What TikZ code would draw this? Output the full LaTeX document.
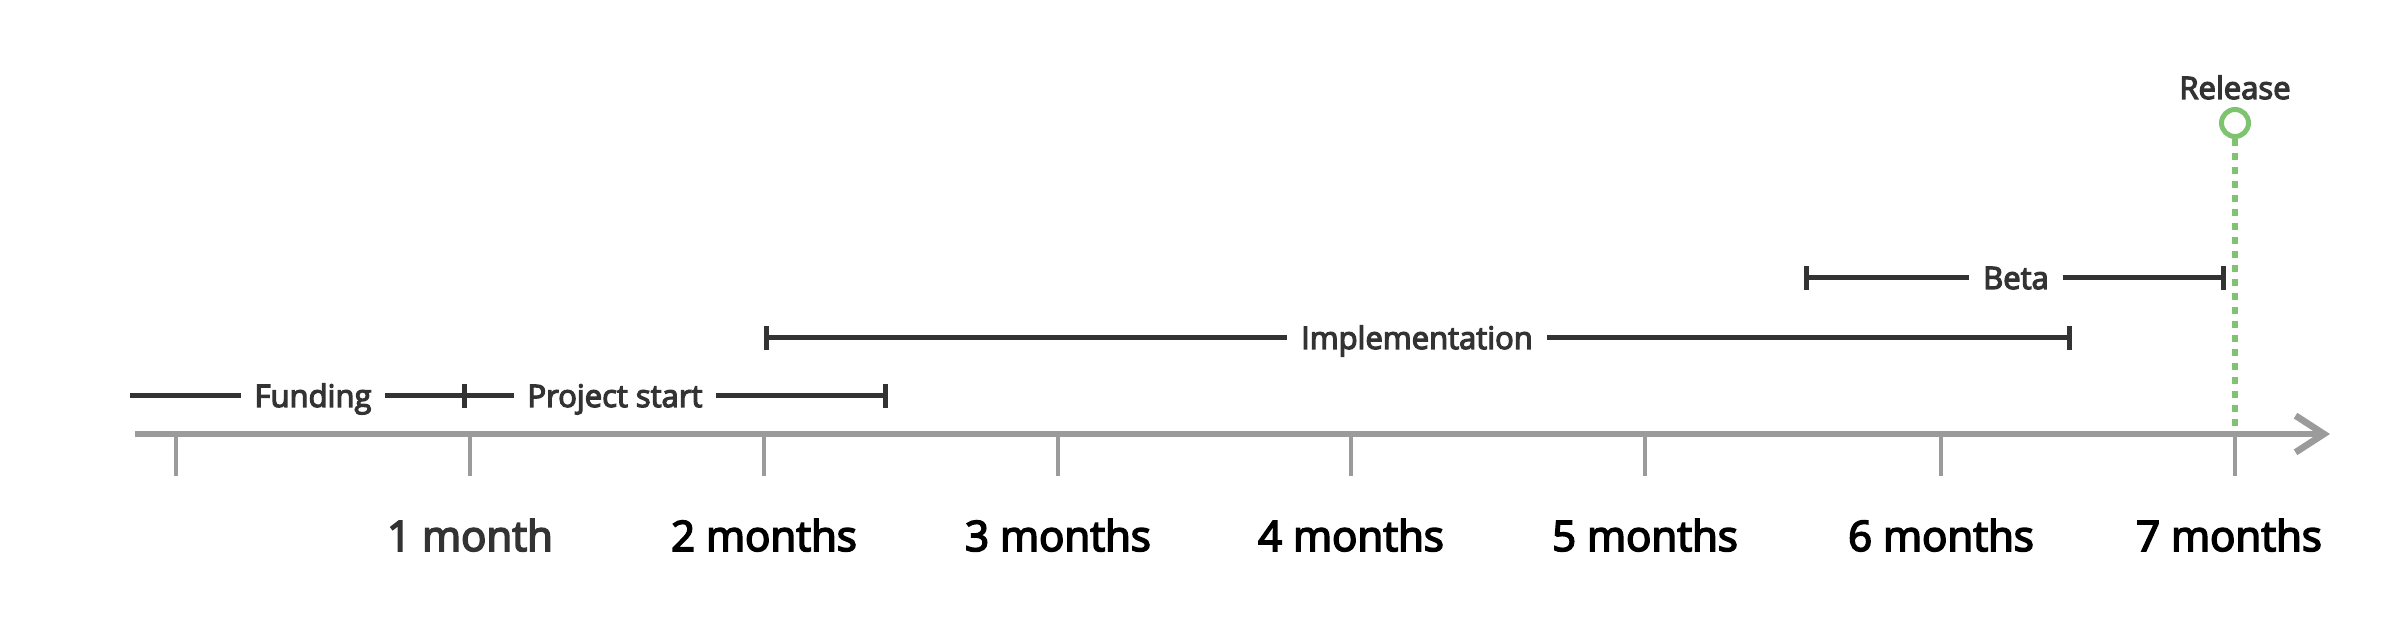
\documentclass[tikz,border=0pt]{standalone}
\usepackage{fontspec}
\setmainfont{Open Sans}
\newfontfamily\semib{Open Sans}[FakeBold=4]
\usetikzlibrary{arrows.meta}
\definecolor{axisgrey}{RGB}{155,155,155}
\definecolor{bardark}{RGB}{51,51,51}
\definecolor{relgreen}{RGB}{126,196,112}
\begin{document}
\begin{tikzpicture}[x=0.3pt,y=-0.3pt,
  axisline/.style={draw=axisgrey,line width=2pt},
  tickmark/.style={draw=axisgrey,line width=1.2pt},
  monthlbl/.style={font=\semib\fontsize{12.6}{14}\selectfont,text=black,inner sep=0pt,text height=9pt,text depth=0pt},
  monthfirst/.style={monthlbl,text=bardark},
  barlbl/.style={font=\semib\fontsize{9.3}{11}\selectfont,text=bardark,inner xsep=4pt,inner ysep=0pt,text height=6.6pt,text depth=0pt},
  barline/.style={draw=bardark,line width=1.5pt},
  barend/.style={-{Bar[width=7pt]}},
  barstart/.style={{Bar[width=7pt]}-},
  relline/.style={draw=relgreen,line width=1.8pt,dash pattern=on 2.1pt off 2.1pt},
  milestone/.style={circle,draw=relgreen,line width=1.5pt,fill=white,minimum size=8.1pt,inner sep=0pt},
  rellbl/.style={font=\semib\fontsize{9.3}{11}\selectfont,text=bardark,inner sep=0pt,text height=6.6pt,text depth=0pt}
]
\useasboundingbox (0,0) rectangle (2400,624);

% release milestone
\coordinate (relaxis) at (2235,434);
\node[milestone] (rel) at (2235,123) {};
\node[rellbl] (reltext) at (2235,88) {Release};
\draw[relline] (rel.south) -- (relaxis);

% axis
\coordinate (a0) at (135,434);
\coordinate (a1) at (2330,434);
\draw[axisline,-{Straight Barb[length=8.5pt,width=11pt]}] (a0) -- (a1);

% ticks
\foreach \i/\x in {0/176,1/470,2/764,3/1058,4/1351,5/1645,6/1941,7/2235}{
  \coordinate (t\i) at (\x,437);
  \coordinate (tb\i) at (\x,476);
  \draw[tickmark] (t\i) -- (tb\i);
}

% month labels
\node[monthfirst] (m1) at (470,536) {1 month};
\node[monthlbl] (m2) at (764,536) {2 months};
\node[monthlbl] (m3) at (1058,536) {3 months};
\node[monthlbl] (m4) at (1351,536) {4 months};
\node[monthlbl] (m5) at (1645,536) {5 months};
\node[monthlbl] (m6) at (1941,536) {6 months};
\node[monthlbl] (m7) at (2229,536) {7 months};

% Funding
\coordinate (f0) at (130,396);
\coordinate (f1) at (467,396);
\node[barlbl] (fund) at (313,396) {Funding};
\draw[barline] (f0) -- (fund.west);
\draw[barline,barend] (fund.east) -- (f1);

% Project start
\coordinate (p1) at (888,396);
\node[barlbl] (ps) at (615,396) {Project start};
\draw[barline] (f1) -- (ps.west);
\draw[barline,barend] (ps.east) -- (p1);

% Implementation
\coordinate (i0) at (764,338);
\coordinate (i1) at (2072,338);
\node[barlbl] (impl) at (1417,338) {Implementation};
\draw[barline,barstart] (i0) -- (impl.west);
\draw[barline,barend] (impl.east) -- (i1);

% Beta
\coordinate (b0) at (1804,278);
\coordinate (b1) at (2226,278);
\node[barlbl] (beta) at (2016,278) {Beta};
\draw[barline,barstart] (b0) -- (beta.west);
\draw[barline,barend] (beta.east) -- (b1);
\end{tikzpicture}
\end{document}
